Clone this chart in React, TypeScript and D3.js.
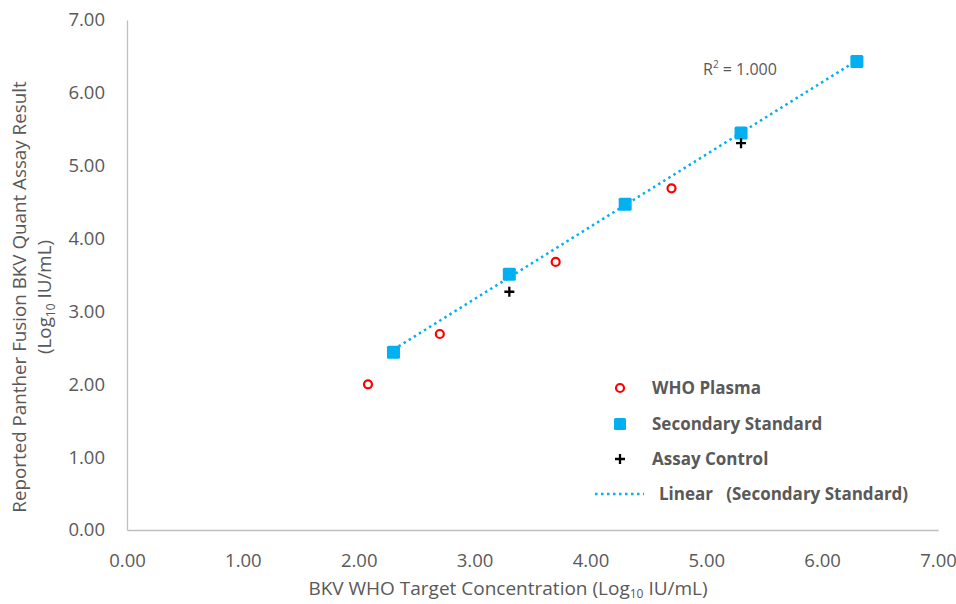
import React, { useEffect, useRef } from 'react';
import * as d3 from 'd3';

const whoX = [2.08, 2.7, 3.7, 4.7];
const whoY = [2.0, 2.69, 3.68, 4.69];
const stdX = [2.3, 3.3, 4.3, 5.3, 6.3];
const stdY = [2.44, 3.51, 4.47, 5.45, 6.43];
const ctrlX = [3.3, 5.3];
const ctrlY = [3.27, 5.31];
const ticks = [0, 1, 2, 3, 4, 5, 6, 7];

const FONT = "'Open Sans', 'Noto Sans', sans-serif";
const GREY = '#595959';

function Chart() {
  const ref = useRef<SVGSVGElement>(null);

  useEffect(() => {
    const svg = d3.select(ref.current);
    svg.selectAll('*').remove();

    const width = 956, height = 604;
    const x = d3.scaleLinear().domain([0, 7]).range([127, 938]);
    const y = d3.scaleLinear().domain([0, 7]).range([530, 20]);

    svg.attr('width', width).attr('height', height).style('font-family', FONT);

    // axes
    const xa = svg.append('g').attr('transform', `translate(0,${y(0)})`)
      .call(d3.axisBottom(x).tickValues(ticks).tickFormat(d3.format('.2f')).tickSize(0).tickPadding(24));
    xa.select('.domain').attr('stroke', '#bfbfbf').attr('stroke-width', 1.3);
    xa.selectAll('text').attr('fill', GREY).attr('font-size', 18.5).attr('font-family', FONT);

    const ya = svg.append('g').attr('transform', `translate(${x(0)},0)`)
      .call(d3.axisLeft(y).tickValues(ticks).tickFormat(d3.format('.2f')).tickSize(0).tickPadding(22));
    ya.select('.domain').attr('stroke', '#bfbfbf').attr('stroke-width', 1.3);
    ya.selectAll('text').attr('fill', GREY).attr('font-size', 18.5).attr('font-family', FONT);

    // linear trend of secondary standard (least squares)
    const mx = d3.mean(stdX)!, my = d3.mean(stdY)!;
    const sxy = d3.sum(stdX, (v, i) => (v - mx) * (stdY[i] - my));
    const sxx = d3.sum(stdX, (v) => (v - mx) ** 2);
    const slope = sxy / sxx, icpt = my - slope * mx;
    const x0 = d3.min(stdX)!, x1 = d3.max(stdX)!;
    svg.append('line')
      .attr('x1', x(x0)).attr('y1', y(icpt + slope * x0))
      .attr('x2', x(x1)).attr('y2', y(icpt + slope * x1))
      .attr('stroke', '#00b0f0').attr('stroke-width', 2.5)
      .attr('stroke-dasharray', '2.5 3.5');

    // secondary standard
    svg.selectAll('.std').data(stdX).enter().append('rect')
      .attr('x', (d) => x(d) - 6.5).attr('y', (_, i) => y(stdY[i]) - 6.5)
      .attr('width', 13).attr('height', 13).attr('rx', 1.5)
      .attr('fill', '#00b0f0');

    // WHO plasma
    svg.selectAll('.who').data(whoX).enter().append('circle')
      .attr('cx', (d) => x(d)).attr('cy', (_, i) => y(whoY[i])).attr('r', 4)
      .attr('fill', 'white').attr('stroke', '#ff0000').attr('stroke-width', 2.2);

    // assay control
    const plus = (g: any, cx: number, cy: number) => {
      g.append('path').attr('d', `M${cx - 5},${cy}H${cx + 5}M${cx},${cy - 5}V${cy + 5}`)
        .attr('stroke', '#000').attr('stroke-width', 2.3);
    };
    ctrlX.forEach((d, i) => plus(svg, x(d), y(ctrlY[i])));

    // R2 label
    const r2 = svg.append('text').attr('x', 703).attr('y', 75)
      .attr('fill', GREY).attr('font-size', 16);
    r2.append('tspan').text('R');
    r2.append('tspan').text('2').attr('font-size', 10).attr('dy', -7);
    r2.append('tspan').text(' = 1.000').attr('dy', 7);

    // legend
    const lg = svg.append('g').attr('font-weight', 'bold').attr('font-size', 17).attr('fill', GREY);
    const rows = [388, 424, 459, 494];
    lg.append('circle').attr('cx', 620).attr('cy', rows[0]).attr('r', 4)
      .attr('fill', 'white').attr('stroke', '#ff0000').attr('stroke-width', 2.2);
    lg.append('rect').attr('x', 614).attr('y', rows[1] - 6).attr('width', 12).attr('height', 12)
      .attr('rx', 1.5).attr('fill', '#00b0f0');
    plus(lg, 620, rows[2]);
    lg.append('line').attr('x1', 595).attr('x2', 644).attr('y1', rows[3]).attr('y2', rows[3])
      .attr('stroke', '#00b0f0').attr('stroke-width', 2.5).attr('stroke-dasharray', '2.5 3.5');
    const labels = ['WHO Plasma', 'Secondary Standard', 'Assay Control'];
    labels.forEach((t, i) => {
      lg.append('text').attr('x', 652).attr('y', rows[i]).attr('dy', '0.35em').text(t);
    });
    lg.append('text').attr('x', 659).attr('y', rows[3]).attr('dy', '0.35em')
      .attr('xml:space', 'preserve').text('Linear   (Secondary Standard)');

    // x title
    const xt = svg.append('text').attr('x', 508).attr('y', 595).attr('text-anchor', 'middle')
      .attr('fill', GREY).attr('font-size', 19);
    xt.append('tspan').text('BKV WHO Target Concentration (Log');
    xt.append('tspan').text('10').attr('font-size', 12).attr('dy', 3);
    xt.append('tspan').text(' IU/mL)').attr('dy', -3);

    // y title
    const yt = svg.append('g').attr('transform', `translate(26,297) rotate(-90)`);
    yt.append('text').attr('text-anchor', 'middle').attr('fill', GREY).attr('font-size', 18.8)
      .text('Reported Panther Fusion BKV Quant Assay Result');
    const yt2 = yt.append('text').attr('y', 25).attr('text-anchor', 'middle')
      .attr('fill', GREY).attr('font-size', 18.8);
    yt2.append('tspan').text('(Log');
    yt2.append('tspan').text('10').attr('font-size', 12).attr('dy', 4);
    yt2.append('tspan').text(' IU/mL)').attr('dy', -4);
  }, []);

  return <svg ref={ref}></svg>;
}

export default function App() {
  return (
    <div style={{ position: 'absolute', left: 0, top: 0 }}>
      <Chart />
    </div>
  );
}
